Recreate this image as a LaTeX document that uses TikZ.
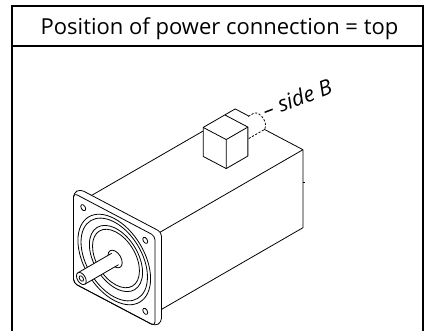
\documentclass[tikz,border=0pt]{standalone}
\usepackage{fontspec}
\setmainfont{Open Sans}
\begin{document}
\begin{tikzpicture}[x=1pt, y=-1pt,
	frame/.style={line width=1.6pt},
	part/.style={line width=0.8pt, line join=round},
	hidden/.style={part, dash pattern=on 2.2pt off 1.6pt}]
	\useasboundingbox (0,0) rectangle (424,331);

	% frame and header
	\draw[frame] (12,331) -- (12,6) -- (423,6) -- (423,331);
	\draw[frame] (12,46) -- (423,46);
	\node[anchor=base, font=\fontsize{22}{26}\selectfont] (title) at (219.5,35) {Position of power connection = top};

	% motor, in the frame of the flange face
	\begin{scope}[shift={(114.25,259.5)}, x={(0.886pt,-0.467pt)}, y={(0pt,-1pt)}, z={(0.866pt,0.5pt)}]
		% body
		\draw[part] (-39,-39,7.5) -- (-39,-39,178) -- (39,-39,178) -- (39,39,178) -- (39,39,7.5);
		\draw[part] (39,-39,7.5) -- (39,-39,178);
		\draw[part] (39,-6,178) -- ++(2.2pt,0pt);

		% plug on side B
		\fill[white] (-13,-68,141) -- (-13,-68,153) -- (13,-68,153) -- (13,-68,141) -- cycle;
		\fill[white] (-5.6,-60.2,141) -- (-5.6,-60.2,166.6) arc[start angle=225.6, end angle=405.6, radius=8] -- (5.6,-48.8,141) -- cycle;
		\draw[hidden] (-5.6,-60.2,160.5) -- (-5.6,-60.2,166.6) arc[start angle=225.6, end angle=405.6, radius=8] -- (5.6,-48.8,141);
		\draw[part] (-13,-68,141) -- (-13,-68,153) -- (2,-68,153);

		% connector box
		\filldraw[part, fill=white] (-13,-39,116) -- (-13,-68,116) -- (-13,-68,141) -- (13,-68,141) -- (13,-39,141) -- (13,-39,116) -- cycle;
		\draw[part] (-13,-68,116) -- (13,-68,116) -- (13,-68,141) (13,-68,116) -- (13,-39,116);

		% flange
		\filldraw[part, fill=white, rounded corners=4pt] (-46,45,0) -- (-46,-45,0) -- (-46,-45,7.5) -- (46,-45,7.5) -- (46,45,7.5) -- (46,45,0) -- cycle;
		\draw[part, rounded corners=4pt] (-46,-45,0) -- (46,-45,0) -- (46,45,0) -- (-46,45,0) -- cycle;
		\foreach \a/\b in {-35/-35.5, 35/-35.5, 35/35.5, -35/35.5}
			\draw[part] (\a,\b,0) circle (2.8);
		\draw[part] (0,0,0) circle (41) circle (37.5);
		\draw[part] (0,0,2) circle (30) circle (26.5);
		\draw[part] (0,0,1) circle (8);

		% shaft
		\fill[white] (-3.85,-3.93,1) -- (-3.85,-3.93,-38) -- (3.85,3.93,-38) -- (3.85,3.93,1) -- cycle;
		\draw[part] (-3.85,-3.93,1) -- (-3.85,-3.93,-38) (3.85,3.93,1) -- (3.85,3.93,-38);
		\filldraw[part, fill=white] (0,0,-38) circle (5.5);
		\draw[part] (0,0,-38) circle (2.5);
	\end{scope}

	\node[anchor=base west, rotate=21, inner sep=0pt, font=\fontsize{21.5}{24}\selectfont\itshape] (sideB) at (266,118.5) {– side B};
\end{tikzpicture}
\end{document}
